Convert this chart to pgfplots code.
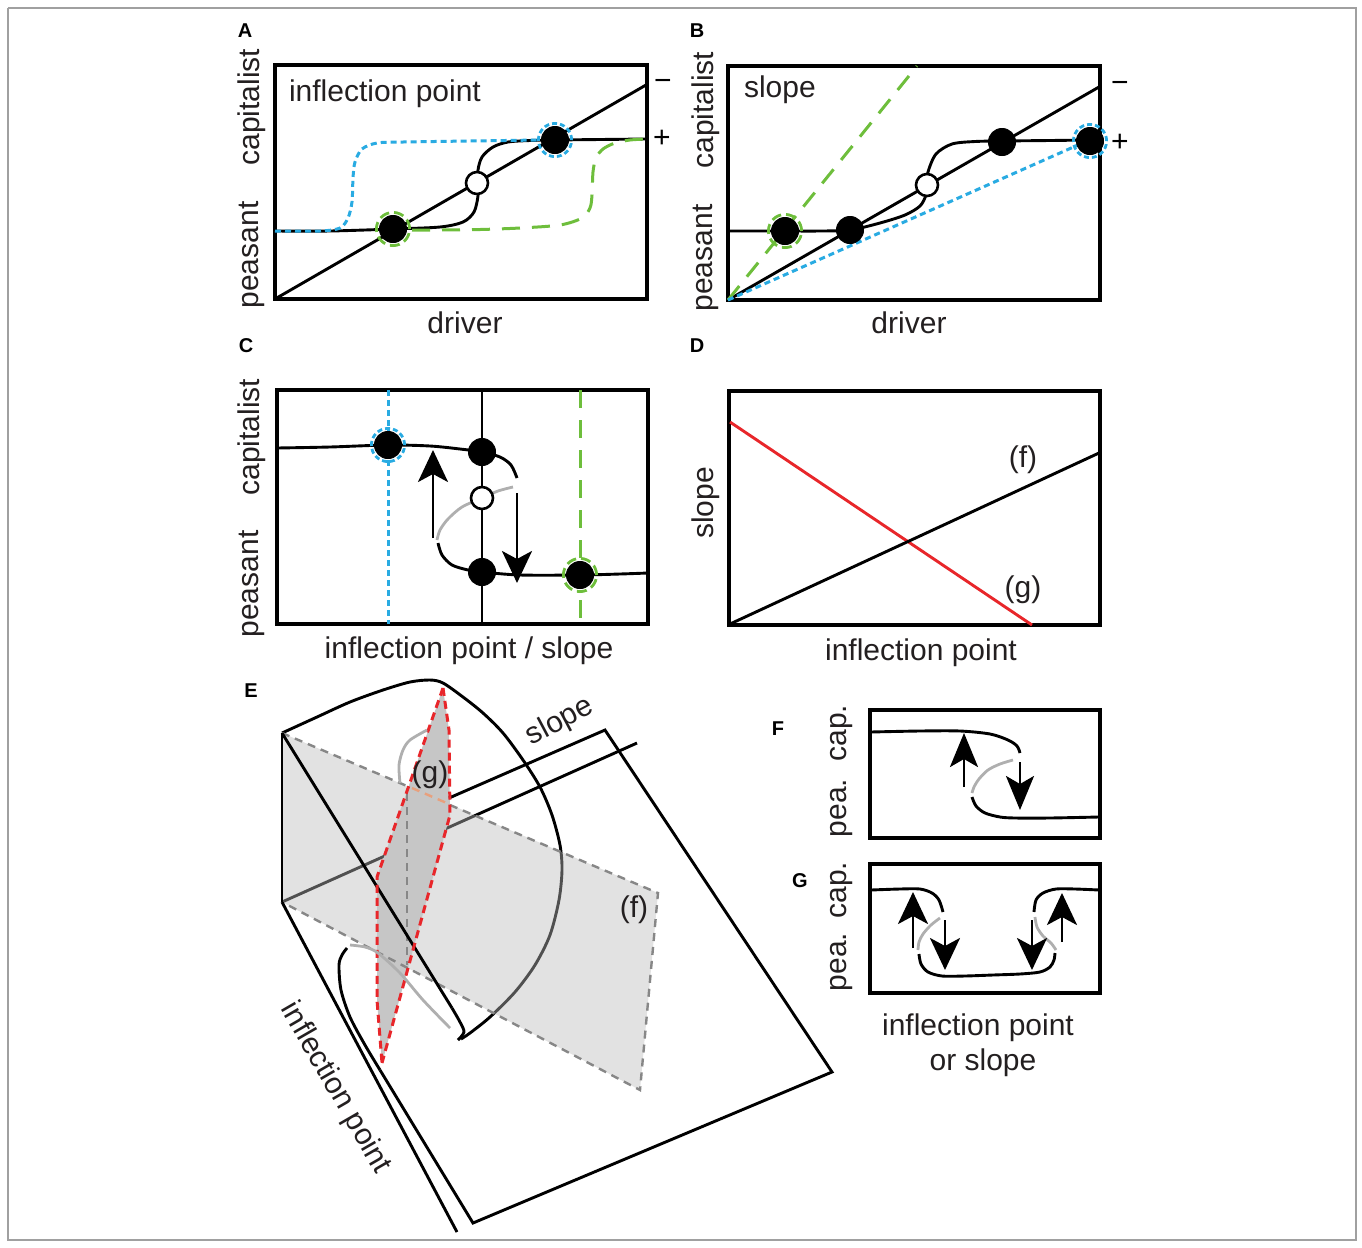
\documentclass[border=0pt]{standalone}
\usepackage{pgfplots}
\pgfplotsset{compat=1.18}
\usetikzlibrary{arrows.meta}
\usepackage{fontspec}
\setmainfont{Liberation Sans}
\definecolor{cblue}{RGB}{41,171,226}
\definecolor{cgreen}{RGB}{110,190,60}
\definecolor{cred}{RGB}{232,38,42}
\definecolor{cgrayc}{RGB}{175,175,175}
\definecolor{cdash}{RGB}{135,135,135}
\definecolor{corange}{RGB}{232,160,125}
\definecolor{ffill}{RGB}{187,187,187}
\definecolor{gfill}{RGB}{198,198,198}
\definecolor{bordercol}{RGB}{160,160,160}
\definecolor{txt}{RGB}{35,31,32}
\newcommand\lab{\fontsize{15}{18}\selectfont}
\newcommand\plab{\fontsize{10}{12}\selectfont\bfseries}
\tikzset{
  blk/.style={black, line width=1.45pt},
  bdot/.style={cblue, line width=1.5pt, dash pattern=on 3pt off 2pt},
  gdash/.style={cgreen, line width=1.5pt, dash pattern=on 9pt off 6pt},
  grc/.style={cgrayc, line width=1.4pt},
  upar/.style={-{Stealth[length=16pt,width=15pt,inset=4pt]}},
  fpar/.style={-{Stealth[length=17pt,width=14pt,inset=4pt]}},
  edash/.style={cdash, line width=1.2pt, dash pattern=on 4pt off 3pt},
  rdash/.style={cred, line width=1.5pt, dash pattern=on 4pt off 2.5pt},
}
\pgfplotsset{
  panel/.style n args={4}{x=0.5pt, y=0.5pt, y dir=reverse, xmin=#1, xmax=#2, ymin=#3, ymax=#4,
     anchor=center, at={({(#1+#2)*0.25pt},{-(#3+#4)*0.25pt})},
     ticks=none, clip=false, axis line style={line width=1.7pt}},
  fdot/.style={only marks, mark=*, mark size=6.8pt, black},
  odot/.style={only marks, mark=*, mark size=5.5pt, mark options={fill=white, draw=black, line width=1.3pt}},
  bring/.style={only marks, mark=o, mark size=8.3pt, mark options={cblue, line width=1.4pt, dash pattern=on 2.5pt off 1.5pt}},
  gring/.style={only marks, mark=o, mark size=8.3pt, mark options={cgreen, line width=1.4pt, dash pattern=on 5pt off 2.5pt}},
}
\begin{document}
\begin{tikzpicture}
\useasboundingbox (0,0) rectangle (681pt,-624pt);
% ---------------- page axis: border and panel E ----------------
\begin{axis}[panel={0}{1362}{0}{1248}, hide axis]
\addplot[bordercol, line width=0.8pt] coordinates {(8,8) (1356,8) (1356,1240) (8,1240) (8,8)};
% back lines
\addplot[blk] coordinates {(282,902) (637,743)};
\addplot[blk, smooth] coordinates {(282,733) (317,717) (350,702) (383,690) (410,682) (430,680) (443,683) (463,697) (483,713) (503,733) (523,760) (540,787) (552,815) (560,845) (562,870) (559,900) (550,935) (535,965) (515,992) (490,1017) (470,1033) (461,1039)};
% plane f
\addplot[fill=ffill, fill opacity=0.43, draw=none] coordinates {(282,733) (658,893) (640,1090) (282,902) (282,733)};
% plane g
\addplot[fill=gfill, draw=none] coordinates {(443,688) (449,730) (450,815) (382,1063) (377,1000) (377,877) (443,688)};
% dashed edges of f
\addplot[edash] coordinates {(282,733) (407,786)};
\addplot[corange, line width=1.2pt, dash pattern=on 4pt off 3pt] coordinates {(412,788) (449,804)};
\addplot[edash] coordinates {(450,805) (658,893) (640,1090) (282,902)};
\addplot[edash] coordinates {(407,793) (407,965)};
% solid frame lines
\addplot[blk] coordinates {(282,733) (282,902)};
\addplot[blk] coordinates {(282,902) (457,1232)};
\addplot[blk] coordinates {(449,798) (605,730) (832,1072) (473,1223) (380,1070)};
\addplot[blk, smooth] coordinates {(380,1070) (365,1045) (350,1017) (341,990) (339,965) (342,955) (347,948)};
% front fold line
\addplot[blk] coordinates {(282,733) (452,1008)};
\addplot[blk, smooth] coordinates {(452,1008) (460,1022) (464,1032) (458,1040)};
% red edges of g
\addplot[rdash] coordinates {(443,688) (377,877) (377,1000) (382,1063)};
\addplot[rdash] coordinates {(443,688) (449,730) (450,815) (382,1063)};
% unstable branches
\addplot[grc, smooth] coordinates {(427,730) (410,740) (403,750) (399,765) (400,783)};
\addplot[grc, smooth] coordinates {(350,945) (365,947) (378,953) (400,973) (423,1000) (450,1028)};
% labels
\node[font=\lab, text=txt, rotate=28] at (axis cs:560,722) {slope};
\node[font=\lab, text=txt, rotate=-60] at (axis cs:335,1088) {inflection point};
\node[font=\lab, text=txt] at (axis cs:430,775) {(g)};
\node[font=\lab, text=txt] at (axis cs:634,910) {(f)};
\node[font=\plab, anchor=base] at (axis cs:251,697) {E};
\end{axis}
% ---------------- panel A ----------------
\begin{axis}[panel={275}{647}{65}{299}]
\addplot[blk] coordinates {(275,299) (646,85)};
\addplot[blk, smooth] coordinates {(275,231) (330,231) (393,229) (440,227) (463,222) (474,212) (478,196) (478,183) (478,170) (482,157) (493,147) (508,142) (530,140.5) (555,140) (600,139.5) (646,139)};
\addplot[bdot, smooth] coordinates {(275,231) (320,231) (340,228) (348,218) (352,202) (353,178) (355,162) (362,149) (377,143) (403,142) (470,141) (540,140)};
\addplot[gdash, smooth] coordinates {(412,230) (440,230) (480,229.5) (520,228) (560,225) (582,218) (590,208) (592,195) (593,172) (596,158) (603,149) (615,143) (630,140) (646,139)};
\addplot[bring] coordinates {(555,140)};
\addplot[gring] coordinates {(393,229)};
\addplot[fdot] coordinates {(393,229) (555,140)};
\addplot[odot] coordinates {(477,183)};
\node[font=\lab, text=txt, anchor=base west] at (axis cs:282,101) {inflection point};
\node[font=\lab, text=txt, anchor=base] at (axis cs:465,333) {driver};
\node[font=\lab, text=txt, rotate=90] at (axis cs:252,107) {capitalist};
\node[font=\lab, text=txt, rotate=90] at (axis cs:252,255) {peasant};
\node[font=\lab] at (axis cs:663,85) {−};
\node[font=\lab] at (axis cs:662,139) {+};
\node[font=\plab, anchor=base] at (axis cs:245,37) {A};
\end{axis}
% ---------------- panel B ----------------
\begin{axis}[panel={728}{1100}{66}{300}]
\addplot[blk] coordinates {(728,300) (1099,87)};
\addplot[blk, smooth] coordinates {(728,231) (785,231) (820,231) (850,230) (880,223) (905,215) (920,206) (926,195) (927,185) (928,172) (936,154) (952,144) (975,141.5) (1002,141) (1050,140.5) (1090,140) (1099,140)};
\addplot[gdash] coordinates {(728,300) (917,66)};
\addplot[bdot] coordinates {(728,300) (1078,145)};
\addplot[gring] coordinates {(785,231)};
\addplot[bring] coordinates {(1090,141)};
\addplot[fdot] coordinates {(785,231) (850,230) (1002,142) (1090,141)};
\addplot[odot] coordinates {(927,185)};
\node[font=\lab, text=txt, anchor=base west] at (axis cs:737,97) {slope};
\node[font=\lab, text=txt, anchor=base] at (axis cs:909,333) {driver};
\node[font=\lab, text=txt, rotate=90] at (axis cs:706,110) {capitalist};
\node[font=\lab, text=txt, rotate=90] at (axis cs:706,258) {peasant};
\node[font=\lab] at (axis cs:1120,87) {−};
\node[font=\lab] at (axis cs:1120,143) {+};
\node[font=\plab, anchor=base] at (axis cs:697,37) {B};
\end{axis}
% ---------------- panel C ----------------
\begin{axis}[panel={277}{648}{390}{624}]
\addplot[blk] coordinates {(482,390) (482,624)};
\addplot[bdot] coordinates {(388,390) (388,624)};
\addplot[gdash] coordinates {(580,390) (580,624)};
\addplot[blk, smooth] coordinates {(277,448) (330,447) (388,445) (430,446) (460,449) (482,452) (500,457) (511,465) (517,478)};
\addplot[grc, smooth] coordinates {(513,487) (498,491) (482,498) (462,507) (448,519) (440,530) (437,540)};
\addplot[blk, smooth] coordinates {(438,543) (442,555) (452,565) (468,570) (482,572) (520,575) (580,575) (620,574) (648,573)};
\addplot[blk, upar] coordinates {(433,538) (433,450)};
\addplot[blk, upar] coordinates {(517,493) (517,583)};
\addplot[bring] coordinates {(388,445)};
\addplot[gring] coordinates {(580,575)};
\addplot[fdot] coordinates {(388,445) (482,452) (482,572) (580,575)};
\addplot[odot] coordinates {(482,498)};
\node[font=\lab, text=txt, anchor=base] at (axis cs:469,658) {inflection point / slope};
\node[font=\lab, text=txt, rotate=90] at (axis cs:252,437) {capitalist};
\node[font=\lab, text=txt, rotate=90] at (axis cs:252,584) {peasant};
\node[font=\plab, anchor=base] at (axis cs:246,352) {C};
\end{axis}
% ---------------- panel D ----------------
\begin{axis}[panel={729}{1100}{391}{625}]
\addplot[cred, line width=1.45pt] coordinates {(730,422) (1032,625)};
\addplot[blk] coordinates {(730,624) (1099,453)};
\node[font=\lab, text=txt] at (axis cs:1023,460) {(f)};
\node[font=\lab, text=txt] at (axis cs:1023,590) {(g)};
\node[font=\lab, text=txt, anchor=base] at (axis cs:921,660) {inflection point};
\node[font=\lab, text=txt, rotate=90] at (axis cs:706,503) {slope};
\node[font=\plab, anchor=base] at (axis cs:697,352) {D};
\end{axis}
% ---------------- panel F ----------------
\begin{axis}[panel={870}{1100}{710}{838}]
\addplot[blk, smooth] coordinates {(871,732) (920,731) (960,731) (990,734) (1008,740) (1017,746) (1020,753)};
\addplot[grc, smooth] coordinates {(1013,760) (1000,764) (988,770) (979,779) (974,787) (972,793)};
\addplot[blk, smooth] coordinates {(972,797) (976,806) (985,813) (1000,817) (1015,818) (1050,818) (1099,817)};
\addplot[blk, fpar] coordinates {(964,787) (964,733)};
\addplot[blk, fpar] coordinates {(1020,762) (1020,810)};
\node[font=\lab, text=txt, rotate=90] at (axis cs:842,733) {cap.};
\node[font=\lab, text=txt, rotate=90] at (axis cs:842,808) {pea.};
\node[font=\plab, anchor=base] at (axis cs:778,735) {F};
\end{axis}
% ---------------- panel G ----------------
\begin{axis}[panel={870}{1100}{864}{993}]
\addplot[blk, smooth] coordinates {(871,890) (900,889) (920,889) (932,893) (939,900) (943,912)};
\addplot[grc, smooth] coordinates {(940,918) (931,925) (923,934) (919,942) (918,950)};
\addplot[blk, smooth] coordinates {(919,954) (921,964) (928,972) (942,976) (965,976) (993,975) (1020,974) (1040,972) (1050,967) (1054,960) (1055,953)};
\addplot[grc, smooth] coordinates {(1056,950) (1051,943) (1043,936) (1037,927) (1035,917)};
\addplot[blk, smooth] coordinates {(1034,912) (1036,900) (1043,893) (1056,889) (1075,889) (1099,890)};
\addplot[blk, upar] coordinates {(913,948) (913,892)};
\addplot[blk, upar] coordinates {(945,920) (945,970)};
\addplot[blk, upar] coordinates {(1032,920) (1032,970)};
\addplot[blk, upar] coordinates {(1062,942) (1062,893)};
\node[font=\lab, text=txt, rotate=90] at (axis cs:842,890) {cap.};
\node[font=\lab, text=txt, rotate=90] at (axis cs:842,962) {pea.};
\node[font=\plab, anchor=base] at (axis cs:800,887) {G};
\node[font=\lab, text=txt, anchor=base] at (axis cs:978,1035) {inflection point};
\node[font=\lab, text=txt, anchor=base] at (axis cs:983,1070) {or slope};
\end{axis}
\end{tikzpicture}
\end{document}
